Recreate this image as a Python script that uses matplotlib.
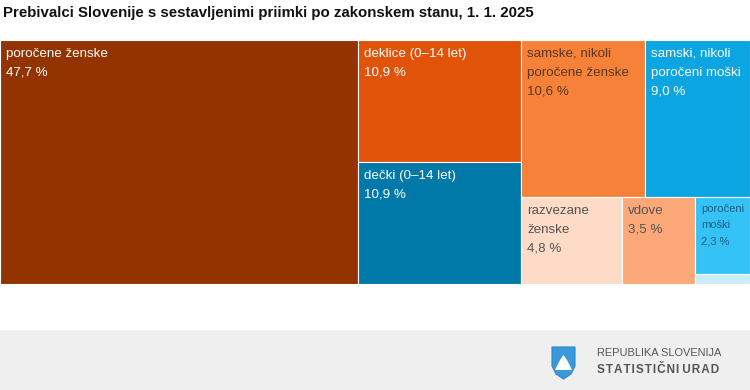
import matplotlib
matplotlib.use("Agg")
import matplotlib.pyplot as plt
from matplotlib.patches import Rectangle, Polygon

plt.rcParams['font.family'] = ['Liberation Sans', 'DejaVu Sans']

title = "Prebivalci Slovenije s sestavljenimi priimki po zakonskem stanu, 1. 1. 2025"

labels = ["poročene ženske", "deklice (0–14 let)", "dečki (0–14 let)",
          "samske, nikoli\nporočene ženske", "samski, nikoli\nporočeni moški",
          "razvezane\nženske", "vdove", "poročeni\nmoški", "ostali"]
shares = [47.7, 10.9, 10.9, 10.6, 9.0, 4.8, 3.5, 2.3, 0.3]

colors = ["#933300", "#E2530A", "#0079A9", "#F6823A", "#0AA5E2",
          "#FDDBC7", "#FCA878", "#35C3F7", "#C9EEFA"]
text_colors = ["white", "white", "white", "#5a3825", "white",
               "#555555", "#555555", "#1f5d80", "#555555"]


def worst(row, side):
    s = sum(row)
    return max(max(side * side * r / (s * s), s * s / (side * side * r)) for r in row)


def squarify(vals, x, y, w, h):
    total = sum(vals)
    areas = [v * w * h / total for v in vals]
    rects = []
    i = 0
    while i < len(areas):
        short = min(w, h)
        row = [areas[i]]
        i += 1
        while i < len(areas) and worst(row + [areas[i]], short) <= worst(row, short):
            row.append(areas[i])
            i += 1
        s = sum(row)
        if w >= h:
            cw = s / h
            yy = y
            for a in row:
                rects.append((x, yy, cw, a / cw))
                yy += a / cw
            x += cw
            w -= cw
        else:
            rh = s / w
            xx = x
            for a in row:
                rects.append((xx, y, a / rh, rh))
                xx += a / rh
            y += rh
            h -= rh
    return rects


fig = plt.figure(figsize=(7.5, 3.9), dpi=100)
ax = fig.add_axes([0, 0, 1, 1])
ax.set_xlim(0, 750)
ax.set_ylim(390, 0)
ax.axis('off')

ax.text(3, 13, title, fontsize=10.85, fontweight='bold', color='#111111', va='center', ha='left')

rects = squarify(shares, 0, 40, 750, 244)
for (x, y, w, h), lab, val, c, tc in zip(rects, labels, shares, colors, text_colors):
    ax.add_patch(Rectangle((x, y), w, h, facecolor=c, edgecolor='white', linewidth=0.8))
    if h < 30:
        continue
    small = w < 70
    fs = 8 if small else 9.6
    txt = lab + "\n" + ("%.1f" % val).replace(".", ",") + " %"
    ax.text(x + 6, y + (7 if small else 8), txt, fontsize=fs, color=tc, va='top', ha='left',
            linespacing=1.8 if small else 1.75)

# footer
ax.add_patch(Rectangle((0, 330), 750, 60, facecolor='#EFEFEF', edgecolor='none'))
shield = Polygon([(552, 347), (575, 347), (575, 366), (571, 374), (563.5, 379), (556, 374), (552, 366)],
                 closed=True, facecolor='#3a9ad9', edgecolor='#2a86c8', linewidth=0.8)
ax.add_patch(shield)
ax.add_patch(Polygon([(555, 370), (560, 360), (563.5, 355), (567, 360), (572, 370)],
                     closed=True, facecolor='white', edgecolor='none'))
ax.add_patch(Polygon([(556, 371), (571, 371), (569, 374), (563.5, 377), (558, 374)],
                     closed=True, facecolor='#3a9ad9', edgecolor='none'))
ax.text(597, 353, "REPUBLIKA SLOVENIJA", fontsize=7.9, color='#555555', va='center', ha='left')
ax.text(597, 370, "S T A T I S T I Č N I   U R A D".replace(" ", "\u200a"), fontsize=8.5, fontweight='bold',
        color='#555555', va='center', ha='left')

fig.savefig("out.png", dpi=100)
